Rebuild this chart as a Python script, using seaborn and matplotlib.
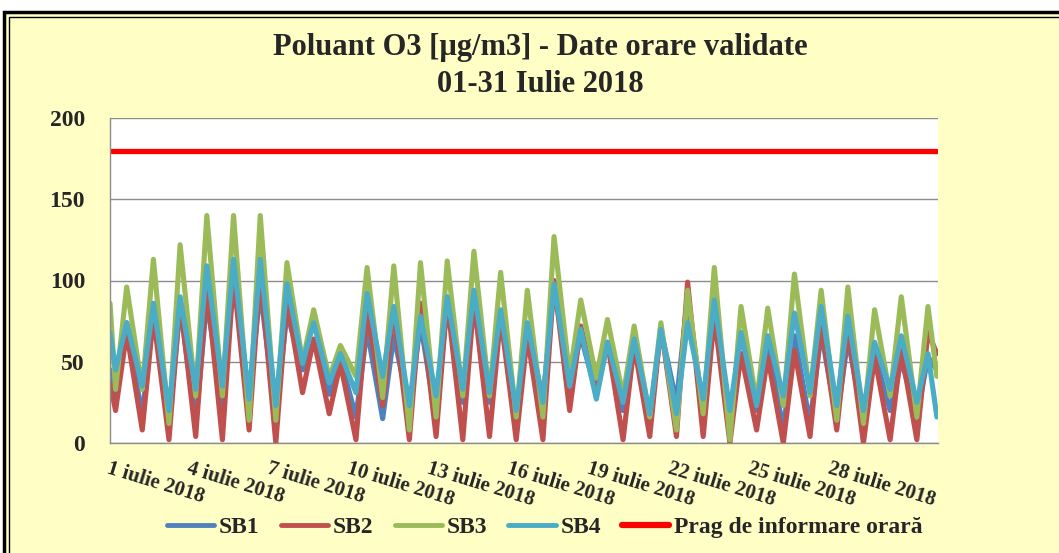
import pandas as pd
import matplotlib
matplotlib.use('Agg')
import matplotlib.pyplot as plt
from matplotlib.patches import Rectangle
from matplotlib.lines import Line2D
import seaborn as sns

# daily minimum (~05h) and maximum (~15h) hourly values, 1-31 July 2018
stations = ['SB1', 'SB2', 'SB3', 'SB4']
sb1_min = [29, 16, 12, 12, 22, 29, 16, 45, 30, 16, 15, 20, 14, 25, 25, 14,
           27, 35, 30, 20, 14, 25, 20, 12, 20, 8, 12, 14, 12, 20, 16]
sb1_max = [74, 84, 84, 88, 100, 94, 80, 62, 52, 70, 66, 74, 88, 88, 78, 72,
           96, 66, 62, 66, 70, 90, 80, 68, 62, 66, 68, 64, 55, 51, 53]
sb2_min = [20, 8, 2, 4, 2, 8, 0, 31, 18, 2, 23, 2, 4, 2, 4, 2,
           2, 20, 31, 2, 4, 4, 4, 0, 8, 0, 4, 8, 0, 2, 2]
sb2_max = [68, 78, 88, 97, 103, 105, 88, 64, 49, 82, 82, 86, 88, 88, 78, 66,
           100, 72, 62, 60, 72, 99, 78, 55, 53, 57, 74, 72, 53, 57, 68]
sb3_min = [33, 33, 12, 29, 29, 14, 14, 50, 40, 41, 28, 8, 16, 29, 29, 16,
           16, 41, 40, 29, 16, 8, 18, 2, 25, 23, 29, 14, 12, 29, 16]
sb3_max = [96, 113, 122, 140, 140, 140, 111, 82, 60, 108, 109, 111, 112, 118, 105, 94,
           127, 88, 76, 72, 74, 94, 108, 84, 83, 104, 94, 96, 82, 90, 84]
sb4_min = [45, 35, 20, 33, 35, 27, 23, 49, 37, 31, 41, 23, 29, 33, 31, 20,
           25, 35, 27, 25, 18, 18, 27, 20, 23, 29, 31, 23, 20, 33, 25]
sb4_max = [74, 86, 90, 109, 113, 113, 98, 74, 55, 92, 84, 78, 90, 94, 82, 74,
           98, 70, 62, 64, 70, 74, 88, 68, 66, 80, 84, 78, 62, 66, 55]
# first hour (1 Jul 00h) and last hour (31 Jul 23h) values
first_hour = [45, 37, 86, 68]
last_hour = [45, 55, 41, 16]
threshold = 180

tick_days = [1, 4, 7, 10, 13, 16, 19, 22, 25, 28]
tick_labels = ['%d iulie 2018' % d for d in tick_days]
colors = ['#4F81BD', '#C0504D', '#9BBB59', '#4BACC6']

# build long dataframe (min at 05:00, max at 15:00 of each day)
days = pd.date_range('2018-07-01', periods=31, freq='D')
series = {'SB1': (sb1_min, sb1_max), 'SB2': (sb2_min, sb2_max),
          'SB3': (sb3_min, sb3_max), 'SB4': (sb4_min, sb4_max)}
rows = []
for k, st in enumerate(stations):
    lo, hi = series[st]
    rows.append((days[0], first_hour[k], st))
    for i, d in enumerate(days):
        rows.append((d + pd.Timedelta(hours=5), lo[i], st))
        rows.append((d + pd.Timedelta(hours=15), hi[i], st))
    rows.append((days[-1] + pd.Timedelta(hours=23), last_hour[k], st))
df = pd.DataFrame(rows, columns=['time', 'value', 'station'])

sns.set_style('white')
plt.rcParams['font.family'] = ['Liberation Serif', 'DejaVu Serif']
plt.rcParams['font.weight'] = 'bold'

fig = plt.figure(figsize=(10.59, 5.53), dpi=100)
fig.patch.set_facecolor('white')

# yellow chart frame with double border
W, H = 1059, 553
fig.patches.append(Rectangle((4 / W, -0.1), 1.2, (H - 12) / H + 0.1, transform=fig.transFigure,
                             facecolor='#FFFFC5', edgecolor='black', lw=2.5, zorder=-2))
fig.patches.append(Rectangle((9 / W, -0.1), 1.2, (H - 17) / H + 0.1, transform=fig.transFigure,
                             facecolor='none', edgecolor='black', lw=1.0, zorder=-1))

ax = fig.add_axes([110 / W, 110 / H, 828 / W, 325 / H])
ax.set_zorder(2)
ax.set_facecolor('white')
sns.lineplot(data=df, x='time', y='value', hue='station', hue_order=stations,
             palette=colors, lw=3.7, estimator=None, legend=False, ax=ax)
ax.axhline(threshold, color='#FF0000', lw=3.8)

ax.set_ylim(0, 200)
ax.set_yticks([0, 50, 100, 150, 200])
ax.set_xlim(pd.Timestamp('2018-07-01'), pd.Timestamp('2018-08-01'))
ax.set_xticks([pd.Timestamp(2018, 7, d) for d in tick_days])
ax.set_xticklabels(tick_labels, rotation=-17, ha='left', va='top', rotation_mode='anchor')
ax.tick_params(axis='x', length=0, pad=11, labelsize=15)
ax.tick_params(axis='y', length=0, pad=18, labelsize=17)
ax.set_xlabel('')
ax.set_ylabel('')
ax.yaxis.grid(True, color='#8C8C8C', lw=1)
for s in ['top', 'right']:
    ax.spines[s].set_visible(False)
for s in ['left', 'bottom']:
    ax.spines[s].set_color('#8C8C8C')
    ax.spines[s].set_linewidth(1)

fig.text(540 / W, 1 - 48 / H, 'Poluant O3 [µg/m3] - Date orare validate',
         ha='center', va='center', fontsize=22, fontweight='bold')
fig.text(540 / W, 1 - 85 / H, '01-31 Iulie 2018',
         ha='center', va='center', fontsize=22, fontweight='bold')

handles = [Line2D([], [], color=c, lw=3.5) for c in colors]
handles.append(Line2D([], [], color='#FF0000', lw=4.5))
fig.legend(handles, stations + ['Prag de informare orară'], loc='center',
           bbox_to_anchor=(545 / W, 1 - 527 / H), ncol=5, frameon=False,
           prop={'size': 17, 'weight': 'bold'}, handlelength=2.0,
           handletextpad=0.2, columnspacing=0.9)

fig.savefig('out.png', dpi=100, facecolor=fig.get_facecolor())
